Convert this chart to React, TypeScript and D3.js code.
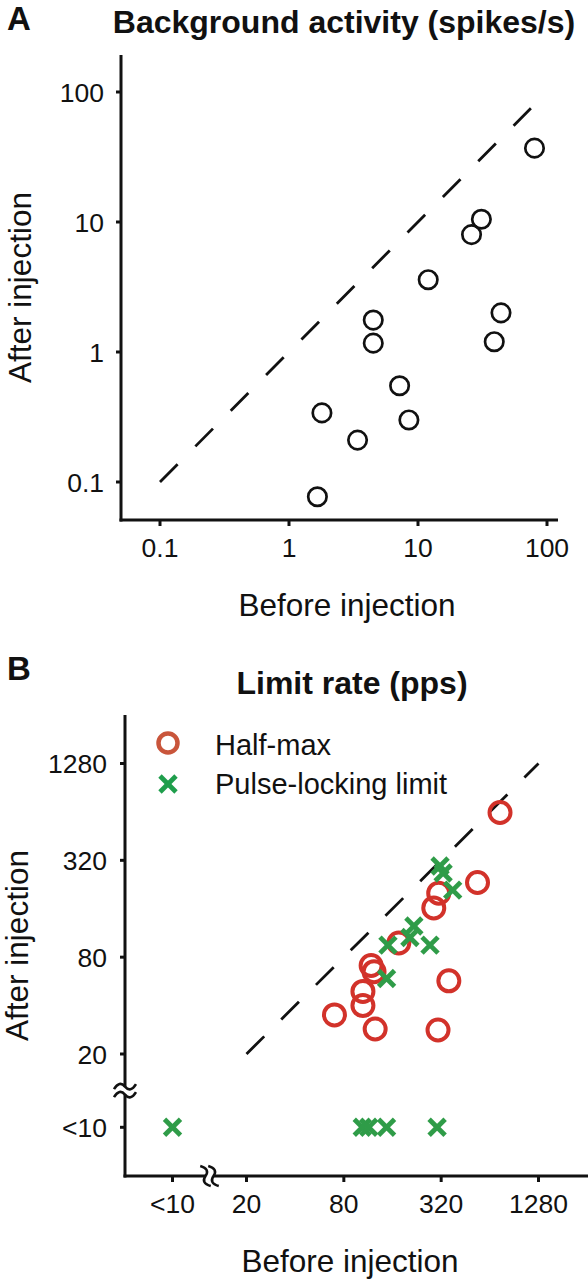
import React from "react";
import * as d3 from "d3";

// ---------- Panel A data (Background activity, spikes/s) ----------
const aBefore = [80, 31, 26, 12, 44, 39, 4.5, 4.5, 7.2, 1.8, 8.5, 3.4, 1.66];
const aAfter = [37, 10.5, 8, 3.6, 2.0, 1.2, 1.76, 1.17, 0.55, 0.34, 0.3, 0.21, 0.077];
const aTicks = [0.1, 1, 10, 100];
const aTickLabels = ["0.1", "1", "10", "100"];
const aDiag = [0.1, 75];

// ---------- Panel B data (Limit rate, pps); null = "<10" ----------
const hmBefore = [740, 537, 309, 288, 175, 118, 123, 357, 105, 105, 70, 125, 306];
const hmAfter = [635, 233, 200, 162, 98, 71, 65, 57, 49, 40, 35, 28.6, 28.2];
const plBefore: (number | null)[] = [315, 329, 377, 217, 205, 150, 273, 147, null, 104, 114, 147, 302];
const plAfter: (number | null)[] = [295, 267, 209, 125, 106, 95, 95, 59, null, null, null, null, null];
const bTicks: (number | null)[] = [null, 20, 80, 320, 1280];
const bTickLabels = ["<10", "20", "80", "320", "1280"];
const bDiag = [20, 1280];

const FONT = "'Liberation Sans', Arial, Helvetica, sans-serif";
const RED = "#d2322a";
const GREEN = "#2f9c48";

function Tilde({ cx, cy, rot = 0 }: { cx: number; cy: number; rot?: number }) {
  return (
    <path
      d="M -11 2.5 Q -5.5 -6.5 0 0 T 11 -2.5"
      transform={`translate(${cx},${cy}) rotate(${rot})`}
      fill="none"
      stroke="#111"
      strokeWidth={2.6}
    />
  );
}

function Cross({ x, y, s, color, w }: { x: number; y: number; s: number; color: string; w: number }) {
  return (
    <g stroke={color} strokeWidth={w}>
      <line x1={x - s} y1={y - s} x2={x + s} y2={y + s} />
      <line x1={x - s} y1={y + s} x2={x + s} y2={y - s} />
    </g>
  );
}

export default function App() {
  // Panel A scales
  const xA = d3.scaleLog().domain([0.1, 100]).range([160, 547]);
  const yA = d3.scaleLog().domain([0.1, 100]).range([482, 92]);
  const axA = { left: 121, top: 55, bottom: 520, right: 558 };

  // Panel B scales
  const xB = d3.scaleLog().base(2).domain([20, 1280]).range([246.5, 538.5]);
  const yB = d3.scaleLog().base(2).domain([20, 1280]).range([1054, 763.5]);
  const axB = { left: 125, top: 715, bottom: 1176, right: 588 };
  const lowX = xB(20) - 74;
  const lowY = yB(20) + 73.3;
  const bx = (v: number | null) => (v === null ? lowX : xB(v));
  const by = (v: number | null) => (v === null ? lowY : yB(v));
  const breakY = (yB(20) + lowY) / 2;
  const breakX = (xB(20) + lowX) / 2;

  const diagA = d3.line<number>().x((d) => xA(d)).y((d) => yA(d))(aDiag) || "";
  const diagB = d3.line<number>().x((d) => xB(d)).y((d) => yB(d))(bDiag) || "";

  return (
    <svg
      width={588}
      height={1280}
      style={{ position: "absolute", left: 0, top: 0, background: "#fff" }}
      fontFamily={FONT}
    >
      <rect x={0} y={0} width={588} height={1280} fill="#fff" />

      {/* ================= Panel A ================= */}
      <text x={7} y={30} fontSize={33} fontWeight="bold" fill="#111">A</text>
      <text x={344} y={33} fontSize={32} fontWeight="bold" textAnchor="middle" fill="#111">
        Background activity (spikes/s)
      </text>

      {/* axes */}
      <g stroke="#111" strokeWidth={3} fill="none">
        <line x1={axA.left} y1={axA.top} x2={axA.left} y2={axA.bottom + 1.5} />
        <line x1={axA.left - 1.5} y1={axA.bottom} x2={axA.right} y2={axA.bottom} />
        {aTicks.map((t, i) => (
          <line key={"ayt" + i} x1={axA.left - 5} x2={axA.left} y1={yA(t)} y2={yA(t)} />
        ))}
        {aTicks.map((t, i) => (
          <line key={"axt" + i} x1={xA(t)} x2={xA(t)} y1={axA.bottom} y2={axA.bottom + 6} />
        ))}
      </g>
      {aTicks.map((t, i) => (
        <text key={"ayl" + i} x={104} y={yA(t) + 9.5} fontSize={26.5} textAnchor="end" fill="#111">
          {aTickLabels[i]}
        </text>
      ))}
      {aTicks.map((t, i) => (
        <text key={"axl" + i} x={xA(t)} y={557} fontSize={26.5} textAnchor="middle" fill="#111">
          {aTickLabels[i]}
        </text>
      ))}
      <text x={347} y={616} fontSize={31.5} textAnchor="middle" fill="#111">Before injection</text>
      <text
        transform={`translate(31,${(axA.top + axA.bottom) / 2}) rotate(-90)`}
        fontSize={31.5}
        textAnchor="middle"
        fill="#111"
      >
        After injection
      </text>

      <path d={diagA} stroke="#111" strokeWidth={2.8} strokeDasharray="25 25.2" fill="none" />
      {aBefore.map((b, i) => (
        <circle key={"ac" + i} cx={xA(b)} cy={yA(aAfter[i])} r={9.2} fill="none" stroke="#111" strokeWidth={2.7} />
      ))}

      {/* ================= Panel B ================= */}
      <text x={7} y={680} fontSize={33} fontWeight="bold" fill="#111">B</text>
      <text x={352} y={694} fontSize={32} fontWeight="bold" textAnchor="middle" fill="#111">
        Limit rate (pps)
      </text>

      <g stroke="#111" strokeWidth={3} fill="none">
        <line x1={axB.left} y1={axB.top} x2={axB.left} y2={breakY - 4} />
        <line x1={axB.left} y1={breakY + 4} x2={axB.left} y2={axB.bottom + 1.5} />
        <line x1={axB.left - 1.5} y1={axB.bottom} x2={breakX - 4} y2={axB.bottom} />
        <line x1={breakX + 4} y1={axB.bottom} x2={axB.right} y2={axB.bottom} />
        {bTicks.map((t, i) => (
          <line key={"byt" + i} x1={axB.left - 5} x2={axB.left} y1={by(t)} y2={by(t)} />
        ))}
        {bTicks.map((t, i) => (
          <line key={"bxt" + i} x1={bx(t)} x2={bx(t)} y1={axB.bottom} y2={axB.bottom + 6} />
        ))}
      </g>
      <Tilde cx={axB.left} cy={breakY - 4} />
      <Tilde cx={axB.left} cy={breakY + 4} />
      <Tilde cx={breakX - 4} cy={axB.bottom} rot={75} />
      <Tilde cx={breakX + 4} cy={axB.bottom} rot={75} />

      {bTicks.map((t, i) => (
        <text key={"byl" + i} x={107} y={by(t) + 9.5} fontSize={26.5} textAnchor="end" fill="#111">
          {bTickLabels[i]}
        </text>
      ))}
      {bTicks.map((t, i) => (
        <text key={"bxl" + i} x={bx(t)} y={1213} fontSize={26.5} textAnchor="middle" fill="#111">
          {bTickLabels[i]}
        </text>
      ))}
      <text x={350} y={1272} fontSize={31.5} textAnchor="middle" fill="#111">Before injection</text>
      <text
        transform={`translate(28,${(axB.top + axB.bottom) / 2}) rotate(-90)`}
        fontSize={31.5}
        textAnchor="middle"
        fill="#111"
      >
        After injection
      </text>

      {/* legend */}
      <circle cx={168} cy={743} r={9.5} fill="none" stroke="#c9553b" strokeWidth={4.5} />
      <Cross x={168} y={784} s={8} color="#1f9e4c" w={4.8} />
      <text x={215} y={755} fontSize={29} fill="#111">Half-max</text>
      <text x={215} y={794} fontSize={29} fill="#111">Pulse-locking limit</text>

      <path d={diagB} stroke="#111" strokeWidth={2.8} strokeDasharray="25 24" fill="none" />
      {hmBefore.map((b, i) => (
        <circle key={"hm" + i} cx={xB(b)} cy={yB(hmAfter[i])} r={10.5} fill="none" stroke={RED} strokeWidth={4} />
      ))}
      {plBefore.map((b, i) => (
        <Cross key={"pl" + i} x={bx(b)} y={by(plAfter[i])} s={8} color={GREEN} w={4.8} />
      ))}
    </svg>
  );
}
